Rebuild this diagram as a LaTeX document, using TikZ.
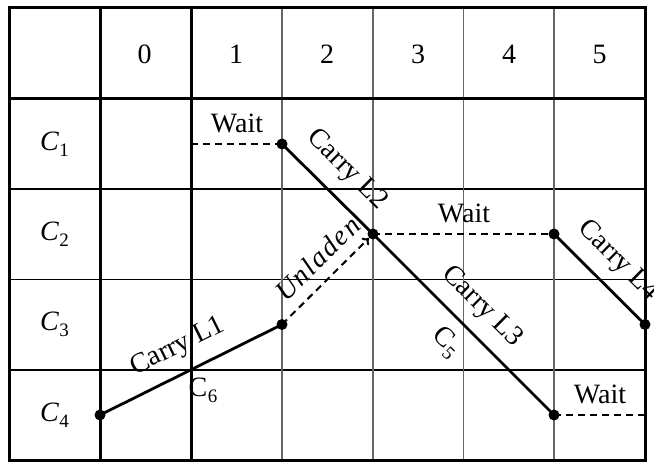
\documentclass[tikz,border=0pt]{standalone}
\usepackage{fontspec}
\setmainfont{Liberation Serif}
\usetikzlibrary{arrows.meta}

% letter with a lowered, smaller index
\newcommand\idx[2]{#1\kern0.5pt\raisebox{-0.22em}{\fontsize{19}{19}\selectfont #2}}

\tikzset{
  frameline/.style={line width=3pt, black},
  hline/.style={line width=1.3pt, black},
  vline/.style={line width=1.5pt, black!60},
  carry/.style={line width=2.8pt, black},
  waitline/.style={line width=2.8pt, black, dash pattern=on 7pt off 5pt},
  dot/.style={circle, fill=black, inner sep=0pt, minimum size=11pt},
  lbl/.style={inner sep=0pt},
}

\begin{document}
\begin{tikzpicture}[x=1pt, y=-1pt, font=\fontsize{28}{30}\selectfont]
\useasboundingbox (0,0) rectangle (654,462);

% thin grid lines
\foreach \y in {189,279.5,370} \draw[hline] (9,\y) -- (645,\y);
\foreach \x in {282,373,463.5,554} \draw[vline] (\x,8) -- (\x,460.5);

% heavy lines: frame, header rule, first two columns
\draw[frameline] (100,8) -- (100,460.5);
\draw[frameline] (191,8) -- (191,460.5);
\draw[frameline] (9,98.5) -- (645,98.5);
\draw[frameline] (9,8) rectangle (645,460.5);

% column headings
\foreach \t/\x in {0/144.5,1/236,2/327,3/418,4/509,5/599.5}
  \node[lbl] (h\t) at (\x,54) {\t};

% row headings
\foreach \r/\y in {1/144,2/234,3/324.5,4/415}
  \node[lbl] (r\r) at (54.5,\y) {\idx{\textit{C}}{\r}};

% events
\node[dot] (a) at (100,415) {};
\node[dot] (b) at (282,324.5) {};
\node[dot] (c) at (282,144) {};
\node[dot] (d) at (373,234) {};
\node[dot] (e) at (554,234) {};
\node[dot] (f) at (645,324.5) {};
\node[dot] (g) at (554,415) {};
\coordinate (w1) at (191,144);
\coordinate (w3) at (645,415);

% moves
\draw[carry] (a.center) -- (b.center);
\draw[carry] (c.center) -- (d.center);
\draw[carry] (d.center) -- (g.center);
\draw[carry] (e.center) -- (f.center);
\draw[waitline] (w1) -- (c.center);
\draw[waitline] (d.center) -- (e.center);
\draw[waitline] (g.center) -- (w3);
\draw[waitline, line width=2pt, -{To[length=6pt,width=10pt]}] (b.center) -- (d);

% labels
\node[lbl, anchor=base] at (237,133) {Wait};
\node[lbl, anchor=base] at (464,223) {Wait};
\node[lbl, anchor=base] at (600,404) {Wait};
\node[lbl, rotate=26.3] at (178,347) {Carry L1};
\node[lbl, rotate=-44.7] at (347,170) {Carry L2};
\node[lbl, rotate=-44.7] at (482,307) {Carry L3};
\node[lbl, rotate=-44.7] at (618,261) {Carry L4};
\node[lbl, rotate=44.7] at (318,258) {\addfontfeature{LetterSpace=6}\textit{Unladen}};
\node[lbl, rotate=-44.7] at (446,342) {\idx{C}{5}};
\node[lbl] at (203,390) {\idx{C}{6}};
\end{tikzpicture}
\end{document}
